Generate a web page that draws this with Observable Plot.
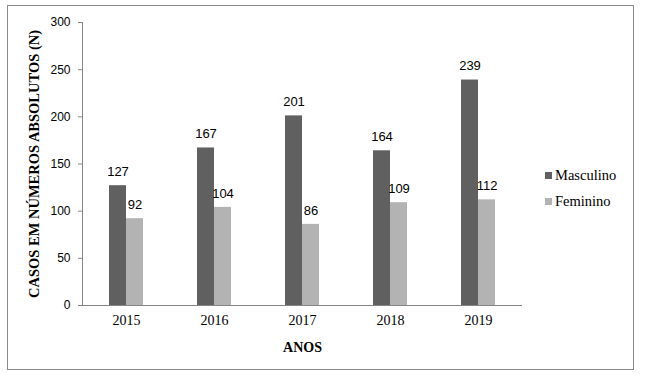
<!DOCTYPE html>
<html>
<head>
<meta charset="utf-8">
<script src="https://cdn.jsdelivr.net/npm/d3@7"></script>
<script src="https://cdn.jsdelivr.net/npm/@observablehq/plot@0.6"></script>
<style>
  html, body { margin: 0; padding: 0; background: #fff; }
  #wrap { position: relative; width: 650px; height: 374px; }
  #border { position: absolute; left: 7px; top: 5px; width: 625px; height: 363px; border: 1px solid #8a8a8a; pointer-events: none; }
  #legend { position: absolute; left: 545px; top: 162px; font-family: "Liberation Serif", "Times New Roman", serif; font-size: 14.5px; color: #000; }
  #legend .row { display: flex; align-items: center; height: 26px; }
  #legend .sw { width: 7px; height: 7px; margin-right: 3px; }
</style>
</head>
<body>
<div id="wrap"><div id="border"></div><div id="legend"></div></div>
<script>
const years = ["2015", "2016", "2017", "2018", "2019"];
const series = ["Masculino", "Feminino"];
const masculino = [127, 167, 201, 164, 239];
const feminino = [92, 104, 86, 109, 112];
const colors = ["#606060", "#b3b3b3"];
const yTicks = [0, 50, 100, 150, 200, 250, 300];
const yTitle = "CASOS EM NÚMEROS ABSOLUTOS (N)";
const xTitle = "ANOS";

const serif = "Liberation Serif, Times New Roman, serif";
const sans = "Liberation Sans, Arial, sans-serif";

const data = [];
years.forEach((yr, i) => {
  data.push({year: yr, sex: series[0], value: masculino[i]});
  data.push({year: yr, sex: series[1], value: feminino[i]});
});

const chart = Plot.plot({
  width: 650,
  height: 374,
  marginLeft: 82,
  marginRight: 128,
  marginTop: 22,
  marginBottom: 69,
  style: {background: "transparent", fontFamily: sans, fontSize: "13px", color: "#000"},
  fx: {domain: years, padding: 0},
  x: {domain: series, paddingInner: 0, paddingOuter: 1.5, axis: null},
  y: {domain: [0, 300]},
  color: {domain: series, range: colors},
  marks: [
    Plot.barY(data, {fx: "year", x: "sex", y: "value", fill: "sex"}),
    Plot.text(data, {fx: "year", x: "sex", y: "value", text: d => String(d.value), dy: -14, fontSize: 13, fontFamily: sans, fill: "#000"}),
    Plot.ruleY([0], {stroke: "#868686"}),
    Plot.axisY({ticks: yTicks, tickSize: 4, tickPadding: 8, stroke: "#868686", fill: "#000", fontSize: 12, fontFamily: sans, label: null}),
    Plot.axisY({ticks: [], tickSize: 0, label: yTitle, labelAnchor: "center", labelArrow: "none", labelOffset: 54, fontSize: 14.5, fontWeight: "bold", fontFamily: serif, fill: "#000"}),
    Plot.frame({anchor: "left", facetAnchor: "left", stroke: "#868686"}),
    Plot.axisFx({anchor: "bottom", tickSize: 0, tickPadding: 10, fontSize: 14, fontFamily: serif, fill: "#000", label: null}),
    Plot.axisFx({anchor: "bottom", ticks: [], tickSize: 0, label: xTitle, labelAnchor: "center", labelArrow: "none", labelOffset: 46, fontSize: 14, fontWeight: "bold", fontFamily: serif, fill: "#000"})
  ]
});
document.getElementById("wrap").prepend(chart);
chart.style.position = "absolute";
chart.style.left = "0";
chart.style.top = "0";

const legend = document.getElementById("legend");
series.forEach((s, i) => {
  const row = document.createElement("div");
  row.className = "row";
  const sw = document.createElement("span");
  sw.className = "sw";
  sw.style.background = colors[i];
  const t = document.createElement("span");
  t.textContent = s;
  row.append(sw, t);
  legend.append(row);
});
</script>
</body>
</html>
